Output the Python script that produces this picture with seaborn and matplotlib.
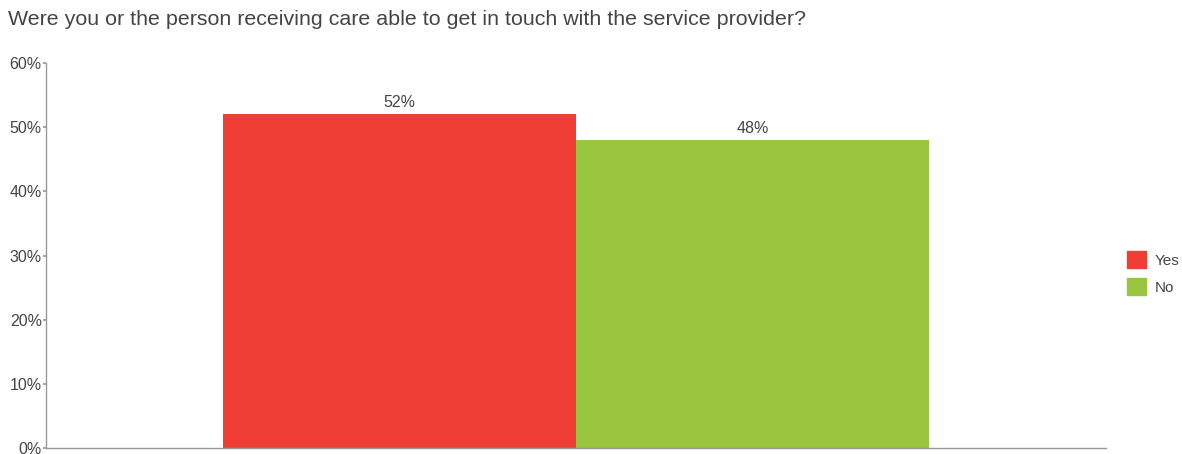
import matplotlib
matplotlib.use("Agg")
import matplotlib.pyplot as plt
import matplotlib.ticker as mticker
import seaborn as sns
import pandas as pd

question = "Were you or the person receiving care able to get in touch with the service provider?"
answers = ["Yes", "No"]
shares = [52, 48]
colors = ["#EF3E33", "#99C63E"]

sns.set_theme(style="white")
plt.rcParams["font.family"] = ["Liberation Sans", "DejaVu Sans"]

df = pd.DataFrame({"group": [""] * len(answers), "answer": answers, "share": shares})

fig = plt.figure(figsize=(11.82, 4.54), dpi=100)
ax = fig.add_axes([0.0389, 0.0132, 0.8968, 0.848])

sns.barplot(data=df, x="group", y="share", hue="answer", hue_order=answers,
            palette=colors, width=2 / 3, gap=0, saturation=1, ax=ax,
            legend=False, errorbar=None)

for patch, val in zip(ax.patches, shares):
    patch.set_edgecolor("none")
    ax.text(patch.get_x() + patch.get_width() / 2, val + 0.6, f"{val}%",
            ha="center", va="bottom", fontsize=11.5, color="#444444")

ax.set_xlim(-0.5, 0.5)
ax.set_ylim(0, 60)
ax.set_yticks(range(0, 61, 10))
ax.yaxis.set_major_formatter(mticker.FuncFormatter(lambda v, _: f"{int(v)}%"))
ax.tick_params(axis="y", labelsize=11.5, labelcolor="#444444", length=2,
               color="#999999", left=True, pad=1)
ax.set_xticks([])
ax.set_xlabel("")
ax.set_ylabel("")
for side in ["top", "right"]:
    ax.spines[side].set_visible(False)
for side in ["left", "bottom"]:
    ax.spines[side].set_color("#999999")
    ax.spines[side].set_linewidth(1)

handles = [plt.Rectangle((0, 0), 1, 1, color=c) for c in colors]
fig.legend(handles, answers, loc="center left", bbox_to_anchor=(0.942, 0.398),
           frameon=False, fontsize=11, labelcolor="#444444",
           handlelength=1.2, handleheight=1.35, handletextpad=0.6,
           labelspacing=0.65)

fig.text(0.007, 0.957, question, fontsize=15.4, color="#444444",
         ha="left", va="center")

fig.savefig("out.png", dpi=100)
